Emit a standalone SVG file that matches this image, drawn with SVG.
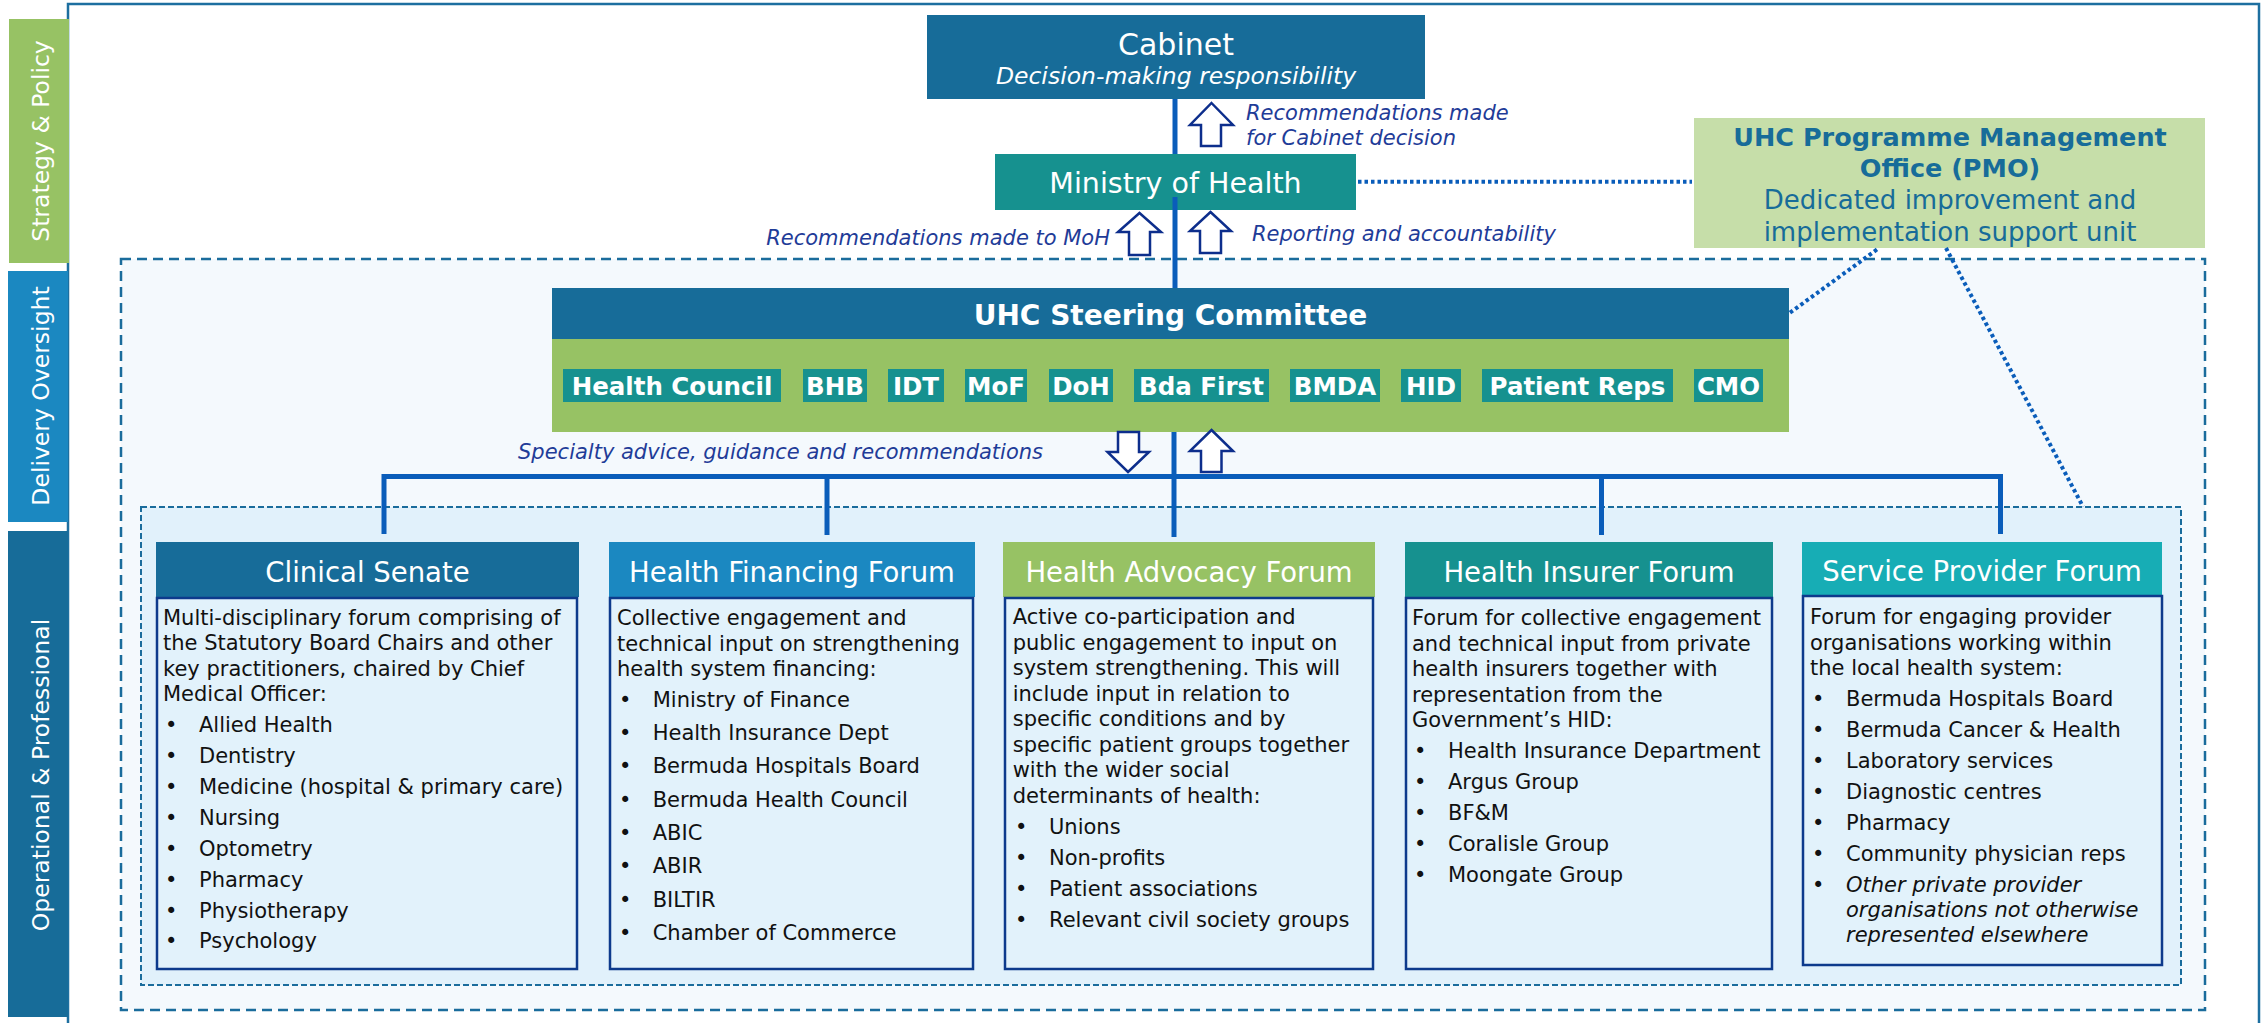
<svg xmlns="http://www.w3.org/2000/svg" width="2262" height="1023" viewBox="0 0 2262 1023">
<style>
text{font-family:"DejaVu Sans",Verdana,sans-serif}
.w{fill:#fff}
.side{font-size:23.5px;fill:#fff;text-anchor:middle}
.body{font-size:21px;fill:#111}
.it{font-style:italic}
.lbl{font-size:21px;font-style:italic;fill:#1f3c98}
.hdr{font-size:27.5px;fill:#fff;text-anchor:middle}
.chip{fill:#16918f}
.chipt{font-size:24.5px;font-weight:bold;fill:#fff;text-anchor:middle}
.box{fill:#e2f2fb;stroke:#0d3a8c;stroke-width:2.5}
.arr{fill:#fff;stroke:#0d2e8c;stroke-width:2.5;stroke-linejoin:miter}
.ln{stroke:#0a5dba;stroke-width:5;fill:none}
.dot{stroke:#0a5dba;stroke-width:4;stroke-dasharray:3.5 3;fill:none}
.pmo{fill:#176c99;text-anchor:middle}
</style>

<g id="background">
<rect x="68" y="4" width="2191" height="1040" fill="#fff" stroke="#1d6fa0" stroke-width="2.5"/>
<rect x="121" y="259" width="2084" height="751" fill="#f4f9fd" stroke="#1a6c9c" stroke-width="2.5" stroke-dasharray="10 6"/>
<rect x="141" y="507" width="2040" height="478" fill="#e1f1fb" stroke="#1a6c9c" stroke-width="2" stroke-dasharray="6 3"/>
</g>

<g id="tier-labels">
<rect x="9" y="19" width="60" height="244" fill="#97c264"/>
<text class="side" transform="translate(49,141) rotate(-90)">Strategy &amp; Policy</text>
<rect x="8" y="271" width="60" height="251" fill="#1b88c1"/>
<text class="side" transform="translate(49,396) rotate(-90)">Delivery Oversight</text>
<rect x="8" y="531" width="60" height="486" fill="#176c99"/>
<text class="side" transform="translate(49,775) rotate(-90)">Operational &amp; Professional</text>
</g>

<g id="cabinet">
<rect x="927" y="15" width="498" height="84" fill="#176c99"/>
<text x="1176" y="55" class="w" font-size="30" text-anchor="middle">Cabinet</text>
<text x="1176" y="84" class="w it" font-size="23.5" text-anchor="middle">Decision-making responsibility</text>
</g>

<g id="ministry-of-health">
<rect x="995" y="154" width="361" height="56" fill="#16918f"/>
<text x="1175.5" y="193" class="w" font-size="28.5" text-anchor="middle">Ministry of Health</text>
</g>

<g id="pmo">
<rect x="1694" y="118" width="511" height="130" fill="#c6dea9"/>
<text x="1950" y="145.7" class="pmo" font-size="25.5" font-weight="bold">UHC Programme Management</text>
<text x="1950" y="176.7" class="pmo" font-size="25.5" font-weight="bold">Office (PMO)</text>
<text x="1950" y="209.3" class="pmo" font-size="26">Dedicated improvement and</text>
<text x="1950" y="240.7" class="pmo" font-size="26">implementation support unit</text>
</g>

<g id="uhc-steering-committee">
<rect x="552" y="288" width="1237" height="51" fill="#176c99"/>
<rect x="552" y="339" width="1237" height="93" fill="#97c264"/>
<text x="1170.5" y="325" class="w" font-size="28" font-weight="bold" text-anchor="middle">UHC Steering Committee</text>
<rect class="chip" x="563" y="369" width="218" height="33"/><text class="chipt" x="672" y="395">Health Council</text>
<rect class="chip" x="803" y="369" width="64" height="33"/><text class="chipt" x="835" y="395">BHB</text>
<rect class="chip" x="888" y="369" width="56" height="33"/><text class="chipt" x="916" y="395">IDT</text>
<rect class="chip" x="965" y="369" width="62" height="33"/><text class="chipt" x="996" y="395">MoF</text>
<rect class="chip" x="1049" y="369" width="64" height="33"/><text class="chipt" x="1081" y="395">DoH</text>
<rect class="chip" x="1134" y="369" width="135" height="33"/><text class="chipt" x="1201.5" y="395">Bda First</text>
<rect class="chip" x="1290" y="369" width="90" height="33"/><text class="chipt" x="1335" y="395">BMDA</text>
<rect class="chip" x="1401" y="369" width="60" height="33"/><text class="chipt" x="1431" y="395">HID</text>
<rect class="chip" x="1482" y="369" width="191" height="33"/><text class="chipt" x="1577.5" y="395">Patient Reps</text>
<rect class="chip" x="1694" y="369" width="69" height="33"/><text class="chipt" x="1728.5" y="395">CMO</text>
</g>

<g id="clinical-senate">
<rect x="156" y="542" width="423" height="55" fill="#176c99"/>
<text class="hdr" x="367.5" y="581.7">Clinical Senate</text>
<rect class="box" x="157" y="598" width="420" height="371"/>
<text class="body" x="163" y="625">Multi-disciplinary forum comprising of</text>
<text class="body" x="163" y="650.3">the Statutory Board Chairs and other</text>
<text class="body" x="163" y="675.7">key practitioners, chaired by Chief</text>
<text class="body" x="163" y="701">Medical Officer:</text>
<text class="body" x="165" y="731.7">•</text><text class="body" x="199" y="731.7">Allied Health</text>
<text class="body" x="165" y="763">•</text><text class="body" x="199" y="763">Dentistry</text>
<text class="body" x="165" y="794">•</text><text class="body" x="199" y="794">Medicine (hospital &amp; primary care)</text>
<text class="body" x="165" y="825">•</text><text class="body" x="199" y="825">Nursing</text>
<text class="body" x="165" y="856">•</text><text class="body" x="199" y="856">Optometry</text>
<text class="body" x="165" y="886.7">•</text><text class="body" x="199" y="886.7">Pharmacy</text>
<text class="body" x="165" y="917.7">•</text><text class="body" x="199" y="917.7">Physiotherapy</text>
<text class="body" x="165" y="948.3">•</text><text class="body" x="199" y="948.3">Psychology</text>
</g>

<g id="health-financing-forum">
<rect x="609" y="542" width="366" height="55" fill="#1b88c1"/>
<text class="hdr" x="792" y="581.7">Health Financing Forum</text>
<rect class="box" x="610" y="598" width="363" height="371"/>
<text class="body" x="617" y="625">Collective engagement and</text>
<text class="body" x="617" y="650.5">technical input on strengthening</text>
<text class="body" x="617" y="676">health system financing:</text>
<text class="body" x="619" y="706.7">•</text><text class="body" x="652.7" y="706.7">Ministry of Finance</text>
<text class="body" x="619" y="740">•</text><text class="body" x="652.7" y="740">Health Insurance Dept</text>
<text class="body" x="619" y="773.3">•</text><text class="body" x="652.7" y="773.3">Bermuda Hospitals Board</text>
<text class="body" x="619" y="806.7">•</text><text class="body" x="652.7" y="806.7">Bermuda Health Council</text>
<text class="body" x="619" y="840">•</text><text class="body" x="652.7" y="840">ABIC</text>
<text class="body" x="619" y="873.3">•</text><text class="body" x="652.7" y="873.3">ABIR</text>
<text class="body" x="619" y="906.7">•</text><text class="body" x="652.7" y="906.7">BILTIR</text>
<text class="body" x="619" y="940">•</text><text class="body" x="652.7" y="940">Chamber of Commerce</text>
</g>

<g id="health-advocacy-forum">
<rect x="1003" y="542" width="372" height="55" fill="#97c264"/>
<text class="hdr" x="1189" y="581.7">Health Advocacy Forum</text>
<rect class="box" x="1005" y="598" width="368" height="371"/>
<text class="body" x="1012.7" y="624">Active co-participation and</text>
<text class="body" x="1012.7" y="649.5">public engagement to input on</text>
<text class="body" x="1012.7" y="675">system strengthening. This will</text>
<text class="body" x="1012.7" y="700.5">include input in relation to</text>
<text class="body" x="1012.7" y="726">specific conditions and by</text>
<text class="body" x="1012.7" y="751.5">specific patient groups together</text>
<text class="body" x="1012.7" y="777">with the wider social</text>
<text class="body" x="1012.7" y="802.5">determinants of health:</text>
<text class="body" x="1015" y="834">•</text><text class="body" x="1049" y="834">Unions</text>
<text class="body" x="1015" y="865">•</text><text class="body" x="1049" y="865">Non-profits</text>
<text class="body" x="1015" y="896">•</text><text class="body" x="1049" y="896">Patient associations</text>
<text class="body" x="1015" y="927">•</text><text class="body" x="1049" y="927">Relevant civil society groups</text>
</g>

<g id="health-insurer-forum">
<rect x="1405" y="542" width="368" height="55" fill="#16918f"/>
<text class="hdr" x="1589" y="581.7">Health Insurer Forum</text>
<rect class="box" x="1406" y="598" width="366" height="371"/>
<text class="body" x="1412" y="625">Forum for collective engagement</text>
<text class="body" x="1412" y="650.5">and technical input from private</text>
<text class="body" x="1412" y="676">health insurers together with</text>
<text class="body" x="1412" y="701.5">representation from the</text>
<text class="body" x="1412" y="727">Government’s HID:</text>
<text class="body" x="1414" y="757.7">•</text><text class="body" x="1448" y="757.7">Health Insurance Department</text>
<text class="body" x="1414" y="789">•</text><text class="body" x="1448" y="789">Argus Group</text>
<text class="body" x="1414" y="820">•</text><text class="body" x="1448" y="820">BF&amp;M</text>
<text class="body" x="1414" y="850.7">•</text><text class="body" x="1448" y="850.7">Coralisle Group</text>
<text class="body" x="1414" y="881.7">•</text><text class="body" x="1448" y="881.7">Moongate Group</text>
</g>

<g id="service-provider-forum">
<rect x="1802" y="542" width="360" height="53" fill="#17adb5"/>
<text class="hdr" x="1982" y="580.7">Service Provider Forum</text>
<rect class="box" x="1803" y="596" width="359" height="369"/>
<text class="body" x="1810" y="624">Forum for engaging provider</text>
<text class="body" x="1810" y="649.5">organisations working within</text>
<text class="body" x="1810" y="675">the local health system:</text>
<text class="body" x="1812" y="705.7">•</text><text class="body" x="1846" y="705.7">Bermuda Hospitals Board</text>
<text class="body" x="1812" y="736.7">•</text><text class="body" x="1846" y="736.7">Bermuda Cancer &amp; Health</text>
<text class="body" x="1812" y="767.7">•</text><text class="body" x="1846" y="767.7">Laboratory services</text>
<text class="body" x="1812" y="798.5">•</text><text class="body" x="1846" y="798.5">Diagnostic centres</text>
<text class="body" x="1812" y="829.5">•</text><text class="body" x="1846" y="829.5">Pharmacy</text>
<text class="body" x="1812" y="860.5">•</text><text class="body" x="1846" y="860.5">Community physician reps</text>
<text class="body" x="1812" y="891.5">•</text><text class="body it" x="1846" y="891.5">Other private provider</text>
<text class="body it" x="1846" y="916.7">organisations not otherwise</text>
<text class="body it" x="1846" y="942">represented elsewhere</text>
</g>

<g id="connectors">
<line class="ln" x1="1175" y1="99" x2="1175" y2="154"/>
<line class="ln" x1="1175" y1="197" x2="1175" y2="288"/>
<line class="ln" x1="1174" y1="432" x2="1174" y2="537"/>
<path class="ln" d="M384,534 V476.5 H2000.5 V534" stroke-width="5.5"/>
<line class="ln" x1="827" y1="476" x2="827" y2="535"/>
<line class="ln" x1="1601.5" y1="476" x2="1601.5" y2="535"/>
<path class="dot" d="M1358,181.7 H1692"/>
<path class="dot" d="M1790,312.7 L1879,248"/>
<path class="dot" d="M1946,248 L2083,506.7"/>
<path class="arr" d="M1211.5,103 L1233,125 L1221,125 L1221,146 L1201,146 L1201,125 L1190,125 Z"/>
<path class="arr" d="M1139.5,213 L1161,232 L1150,232 L1150,255 L1129,255 L1129,232 L1118,232 Z"/>
<path class="arr" d="M1210.5,212 L1231,231 L1221,231 L1221,253 L1200,253 L1200,231 L1190,231 Z"/>
<path class="arr" d="M1128,472 L1149,452 L1139,452 L1139,432 L1118,432 L1118,452 L1107.5,452 Z"/>
<path class="arr" d="M1211.5,430 L1233,451 L1221.5,451 L1221.5,472 L1201,472 L1201,451 L1190,451 Z"/>
<text class="lbl" x="1246" y="119.5">Recommendations made</text>
<text class="lbl" x="1246" y="145">for Cabinet decision</text>
<text class="lbl" x="1110" y="245" text-anchor="end">Recommendations made to MoH</text>
<text class="lbl" x="1252" y="240.5">Reporting and accountability</text>
<text class="lbl" x="518" y="459">Specialty advice, guidance and recommendations</text>
</g>
</svg>
